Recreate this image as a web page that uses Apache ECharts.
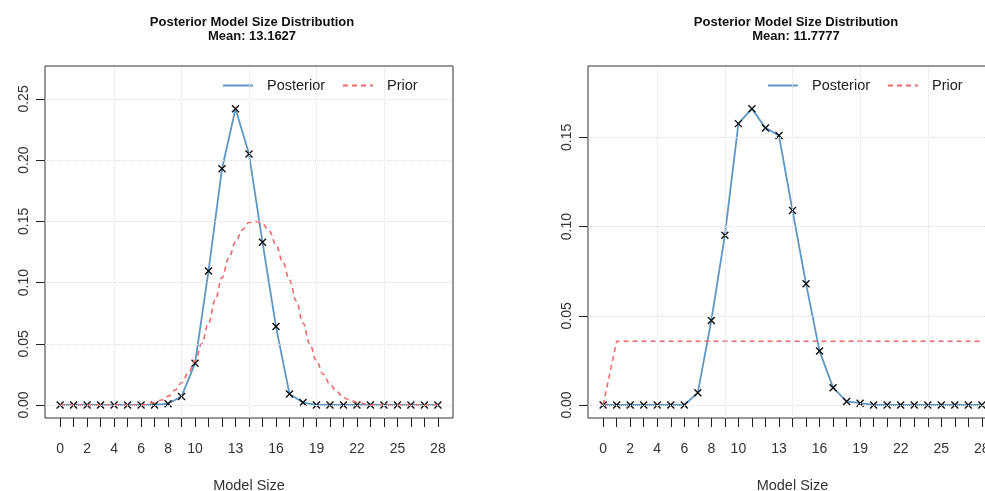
<!DOCTYPE html>
<html>
<head>
<meta charset="utf-8">
<script src="https://cdn.jsdelivr.net/npm/echarts@6/dist/echarts.min.js"></script>
<style>
html, body { margin: 0; padding: 0; background: #fff; }
#chart { width: 985px; height: 491px; }
</style>
</head>
<body>
<div id="chart"></div>
<script>
// model sizes (x) shared by both panels
var modelSizes = [0, 1, 2, 3, 4, 5, 6, 7, 8, 9, 10, 11, 12, 13, 14, 15, 16, 17, 18, 19, 20, 21, 22, 23, 24, 25, 26, 27, 28];

// left panel
var postLeft = [0, 0, 0, 0, 0, 0, 0, 0, 0.001, 0.007, 0.034, 0.1095, 0.193, 0.242, 0.205, 0.133, 0.064, 0.009, 0.002, 0, 0, 0, 0, 0, 0, 0, 0, 0, 0];
var priorLeftX = [0, 1, 2, 3, 4, 5, 6, 7, 7.5, 8, 8.5, 9, 9.5, 10, 10.5, 11, 11.5, 12, 12.5, 13, 13.5, 14, 14.5, 15, 15.5, 16, 16.5, 17, 17.5, 18, 18.5, 19, 19.5, 20, 20.5, 21, 21.5, 22, 23, 24, 25, 26, 27, 28];
var priorLeftY = [0, 0, 0, 0, 0, 0, 0, 0.002, 0.004, 0.007, 0.012, 0.018, 0.026, 0.036, 0.05, 0.067, 0.086, 0.104, 0.12, 0.133, 0.143, 0.149, 0.15, 0.148, 0.142, 0.131, 0.117, 0.102, 0.085, 0.067, 0.05, 0.036, 0.025, 0.017, 0.011, 0.006, 0.004, 0.002, 0, 0, 0, 0, 0, 0];

// right panel
var postRight = [0, 0, 0, 0, 0, 0, 0, 0.0069, 0.0474, 0.0952, 0.1577, 0.1661, 0.1553, 0.151, 0.109, 0.068, 0.0302, 0.0097, 0.002, 0.001, 0, 0, 0, 0, 0, 0, 0, 0, 0];
var priorRight = [0, 0.0357, 0.0357, 0.0357, 0.0357, 0.0357, 0.0357, 0.0357, 0.0357, 0.0357, 0.0357, 0.0357, 0.0357, 0.0357, 0.0357, 0.0357, 0.0357, 0.0357, 0.0357, 0.0357, 0.0357, 0.0357, 0.0357, 0.0357, 0.0357, 0.0357, 0.0357, 0.0357, 0.0357];

// ticks / labels
var xLabels = [0, 2, 4, 6, 8, 10, 13, 16, 19, 22, 25, 28];
var yLabelsLeft = [0, 0.05, 0.10, 0.15, 0.20, 0.25];
var yLabelsRight = [0, 0.05, 0.10, 0.15];
var gridX = [4, 9, 14, 19, 24];

var FONT = 'Liberation Sans, Arial, sans-serif';
var BLUE = '#5e97c4';
var RED = '#ef6a6a';
var CROSS = 'path://M0,0L10,10M10,0L0,10';

function pairs(xs, ys) {
  return xs.map(function (x, i) { return [x, ys[i]]; });
}

function gridLines(ys) {
  var d = [];
  gridX.forEach(function (v) { d.push({ xAxis: v }); });
  ys.forEach(function (v) { d.push({ yAxis: v }); });
  return {
    silent: true,
    symbol: 'none',
    label: { show: false },
    lineStyle: { color: '#e0e0e0', type: 'dotted', width: 1 },
    data: d
  };
}

function xAxisOpt(idx) {
  return {
    gridIndex: idx,
    type: 'value',
    min: -1.12,
    max: 29.12,
    axisLine: { show: false, onZero: false },
    axisTick: { show: true, length: 9, customValues: modelSizes, lineStyle: { color: '#222' } },
    axisLabel: { customValues: xLabels, margin: 24, fontSize: 14, color: '#333', fontFamily: FONT },
    splitLine: { show: false },
    name: 'Model Size',
    nameLocation: 'middle',
    nameGap: 60,
    nameTextStyle: { fontSize: 14.5, color: '#333', fontFamily: FONT }
  };
}

function yAxisOpt(idx, min, max, ticks) {
  return {
    gridIndex: idx,
    type: 'value',
    min: min,
    max: max,
    axisLine: { show: false, onZero: false },
    axisTick: { show: true, length: 9, customValues: ticks, lineStyle: { color: '#222', width: 1 } },
    axisLabel: {
      customValues: ticks,
      rotate: 90,
      margin: 14,
      fontSize: 14,
      color: '#333',
      fontFamily: FONT,
      formatter: function (v) { return v.toFixed(2); }
    },
    splitLine: { show: false }
  };
}

function legendOpt(left) {
  return {
    left: left,
    top: 73,
    itemWidth: 30,
    itemHeight: 14,
    itemGap: 17,
    data: ['Posterior', 'Prior'],
    itemStyle: { opacity: 0 },
    textStyle: { fontSize: 14.5, color: '#222', fontFamily: FONT, padding: [0, 0, 0, 9] }
  };
}

var chart = echarts.init(document.getElementById('chart'));
chart.setOption({
  animation: false,
  title: [{
    text: 'Posterior Model Size Distribution\nMean: 13.1627',
    left: 247, top: 10, textAlign: 'center',
    textStyle: { fontSize: 13, fontWeight: 'bold', lineHeight: 14, color: '#111', fontFamily: FONT }
  }, {
    text: 'Posterior Model Size Distribution\nMean: 11.7777',
    left: 791, top: 10, textAlign: 'center',
    textStyle: { fontSize: 13, fontWeight: 'bold', lineHeight: 14, color: '#111', fontFamily: FONT }
  }],
  legend: [legendOpt(217), legendOpt(762)],
  grid: [
    { left: 45, width: 408, top: 66, bottom: 73, show: true, borderColor: '#333', borderWidth: 1, outerBoundsMode: 'none' },
    { left: 588, width: 409, top: 66, bottom: 73, show: true, borderColor: '#333', borderWidth: 1, outerBoundsMode: 'none' }
  ],
  xAxis: [xAxisOpt(0), xAxisOpt(1)],
  yAxis: [
    yAxisOpt(0, -0.01065, 0.2769, yLabelsLeft),
    yAxisOpt(1, -0.0073, 0.19, yLabelsRight)
  ],
  series: [
    {
      name: 'Posterior', type: 'line', xAxisIndex: 0, yAxisIndex: 0, z: 2,
      data: pairs(modelSizes, postLeft),
      symbol: CROSS, symbolSize: 7,
      lineStyle: { color: BLUE, width: 1.8 },
      itemStyle: { color: '#111', borderColor: '#111', borderWidth: 1.4 },
      markLine: gridLines(yLabelsLeft)
    },
    {
      name: 'Prior', type: 'line', xAxisIndex: 0, yAxisIndex: 0, z: 3,
      data: pairs(priorLeftX, priorLeftY),
      symbol: 'none', smooth: 0.4, smoothMonotone: 'x',
      lineStyle: { color: RED, width: 1.6, type: [5, 4] },
      itemStyle: { color: RED }
    },
    {
      name: 'Posterior', type: 'line', xAxisIndex: 1, yAxisIndex: 1, z: 2,
      data: pairs(modelSizes, postRight),
      symbol: CROSS, symbolSize: 7,
      lineStyle: { color: BLUE, width: 1.8 },
      itemStyle: { color: '#111', borderColor: '#111', borderWidth: 1.4 },
      markLine: gridLines(yLabelsRight)
    },
    {
      name: 'Prior', type: 'line', xAxisIndex: 1, yAxisIndex: 1, z: 3,
      data: pairs(modelSizes, priorRight),
      symbol: 'none',
      lineStyle: { color: RED, width: 1.6, type: [5, 4] },
      itemStyle: { color: RED }
    }
  ]
});
</script>
</body>
</html>
